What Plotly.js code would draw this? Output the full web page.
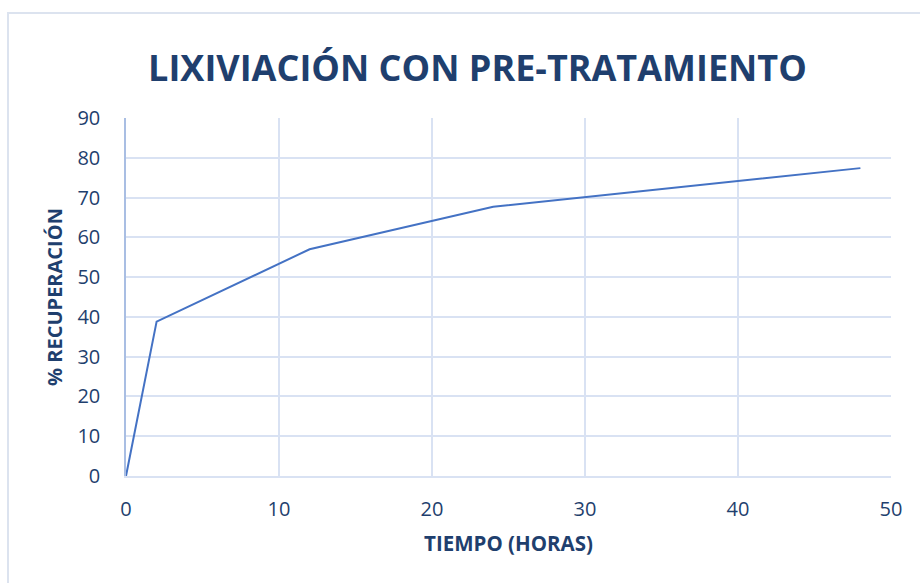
<!DOCTYPE html>
<html>
<head>
<meta charset="utf-8">
<script src="https://cdn.plot.ly/plotly-3.0.1.min.js"></script>
<style>
html, body { margin:0; padding:0; background:#ffffff; overflow:hidden; }
#frame { position:absolute; left:7px; top:12px; width:1000px; height:1000px; border:2px solid #DCE3EF; box-sizing:border-box; }
#chart { position:absolute; left:0; top:0; width:920px; height:583px; }
</style>
</head>
<body>
<div id="frame"></div>
<div id="chart"></div>
<script>
// Data
const horas = [0, 2, 12, 24, 48];
const recuperacion = [0, 38.8, 57.0, 67.7, 77.4];
const xTicks = [0, 10, 20, 30, 40, 50];
const yTicks = [0, 10, 20, 30, 40, 50, 60, 70, 80, 90];

const titleText = 'LIXIVIACIÓN CON PRE-TRATAMIENTO';
const xTitle = 'TIEMPO (HORAS)';
const yTitle = '% RECUPERACIÓN';

const navy = '#1F3F6E';
const gridColor = '#D9E2F3';

const trace = {
  x: horas,
  y: recuperacion,
  type: 'scatter',
  mode: 'lines',
  line: { color: '#4472C4', width: 2 },
  hoverinfo: 'x+y'
};

const layout = {
  width: 920,
  height: 583,
  margin: { l: 126, r: 29, t: 118, b: 107 },
  paper_bgcolor: 'rgba(0,0,0,0)',
  plot_bgcolor: 'rgba(0,0,0,0)',
  showlegend: false,
  font: { family: 'Open Sans, sans-serif', color: navy },
  title: {
    text: '<b>' + titleText + '</b>',
    font: { family: 'Open Sans, sans-serif', size: 36, color: navy },
    x: 0.519, xref: 'container', xanchor: 'center',
    y: 0.883, yref: 'container', yanchor: 'middle'
  },
  xaxis: {
    range: [0, 50],
    tickvals: xTicks,
    ticktext: xTicks.map(String),
    showgrid: true,
    gridcolor: gridColor,
    gridwidth: 1.5,
    zeroline: false,
    showline: true,
    linecolor: gridColor,
    linewidth: 1.5,
    ticks: '',
    ticklabelstandoff: 14,
    tickfont: { family: 'Open Sans, sans-serif', size: 20, color: navy },
    title: {
      text: '<b>' + xTitle + '</b>',
      font: { family: 'Open Sans, sans-serif', size: 20.5, color: navy },
      standoff: 16
    }
  },
  yaxis: {
    range: [0, 90],
    tickvals: yTicks,
    ticktext: yTicks.map(String),
    showgrid: true,
    gridcolor: gridColor,
    gridwidth: 1.5,
    zeroline: false,
    showline: true,
    linecolor: '#A9BEE3',
    linewidth: 1.5,
    ticks: '',
    ticklabelstandoff: 20,
    tickfont: { family: 'Open Sans, sans-serif', size: 20, color: navy },
    title: {
      text: '<b>' + yTitle + '</b>',
      font: { family: 'Open Sans, sans-serif', size: 20, color: navy },
      standoff: 9
    }
  }
};

Plotly.newPlot('chart', [trace], layout, { displayModeBar: false, staticPlot: false });
</script>
</body>
</html>
